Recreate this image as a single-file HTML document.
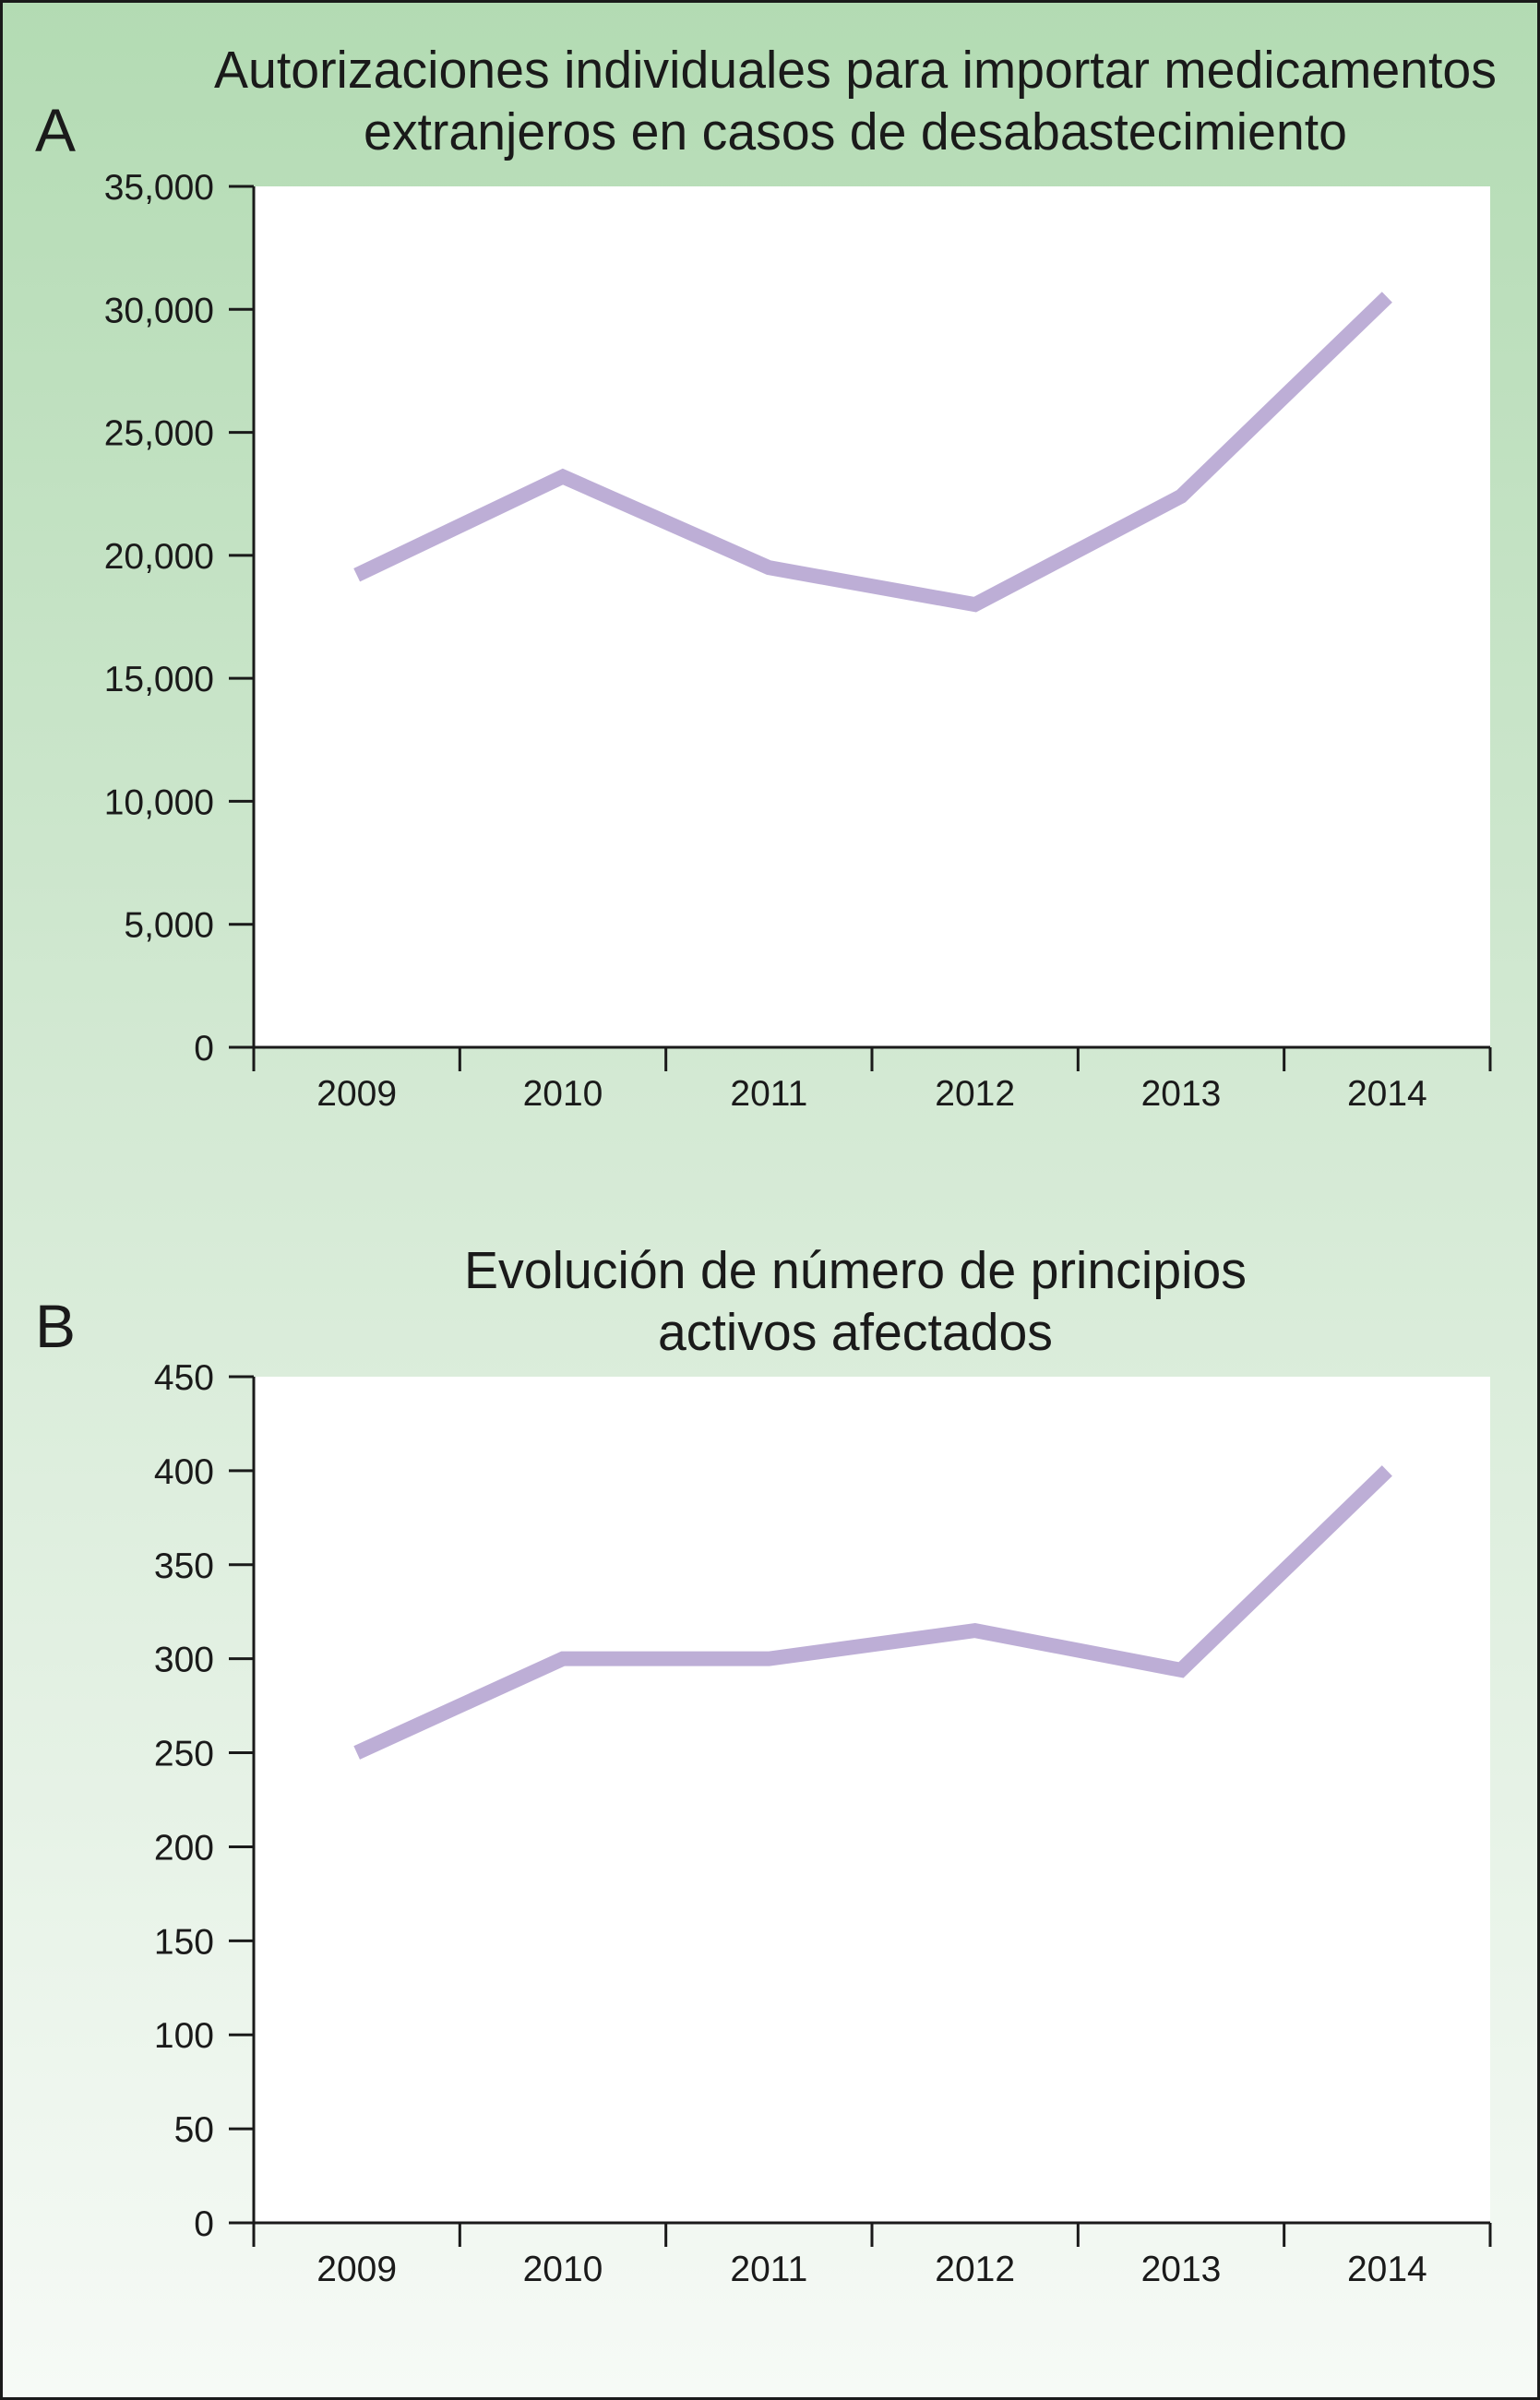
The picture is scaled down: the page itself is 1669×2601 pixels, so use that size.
<!DOCTYPE html>
<html><head><meta charset="utf-8"><style>
html,body{margin:0;padding:0;width:1669px;height:2601px;overflow:hidden}
svg{display:block}
text{font-family:"Liberation Sans",Arial,sans-serif;fill:#1a1a1a}
</style></head><body>
<svg id="root" width="1669" height="2601" viewBox="0 0 1669 2601">
<defs><linearGradient id="bg" x1="0" y1="0" x2="0" y2="1">
<stop offset="0" stop-color="#b3dbb3"/><stop offset="0.45" stop-color="#d3e9d3"/><stop offset="1" stop-color="#f6faf6"/></linearGradient></defs>
<rect x="1.5" y="1.5" width="1666" height="2598" fill="url(#bg)" stroke="#1a1a1a" stroke-width="3"/>
<g id="chartA"></g>
<g id="chartB"></g>
</svg>
<script>
const categories = ["2009","2010","2011","2012","2013","2014"];
const seriesA = [19200, 23200, 19500, 18000, 22400, 30500];
const seriesB = [250, 300, 300, 315, 294, 400];
const ticksA = [0,5000,10000,15000,20000,25000,30000,35000];
const tickLabelsA = ["0","5,000","10,000","15,000","20,000","25,000","30,000","35,000"];
const ticksB = [0,50,100,150,200,250,300,350,400,450];
const tickLabelsB = ["0","50","100","150","200","250","300","350","400","450"];
const NS="http://www.w3.org/2000/svg";
function mk(parent,tag,attrs,txt){const e=document.createElementNS(NS,tag);for(const k in attrs)e.setAttribute(k,attrs[k]);if(txt!==undefined)e.textContent=txt;parent.appendChild(e);return e;}
function draw(g,cfg){
  const L=275,R=1615,T=cfg.top,B=cfg.bottom;
  const y=v=>B-(v-cfg.min)/(cfg.max-cfg.min)*(B-T);
  const bw=(R-L)/categories.length;
  const x=i=>L+bw*(i+0.5);
  let e=mk(g,'rect',{x:L,y:T,width:R-L,height:B-T,fill:'#fff'});
  
  
  e=mk(g,'text',{x:38,y:cfg.letterY,'font-size':66},cfg.letter);
  
  
  cfg.title.forEach((t,i)=>{
    const tt=mk(g,'text',{x:927,y:cfg.titleY[i],'font-size':57,'text-anchor':'middle',textLength:cfg.titleW[i],lengthAdjust:'spacingAndGlyphs'},t);
    
    
  });
  cfg.ticks.forEach((v,i)=>{
    const l=mk(g,'line',{x1:248,x2:L,y1:y(v),y2:y(v),stroke:'#1a1a1a','stroke-width':3});
    
    
    const t=mk(g,'text',{x:232,y:y(v)+14,'font-size':39,'text-anchor':'end'},cfg.labels[i]);
    
    
  });
  e=mk(g,'line',{x1:L,x2:L,y1:T,y2:B+26,stroke:'#1a1a1a','stroke-width':3});
  
  
  e=mk(g,'line',{x1:L,x2:R,y1:B,y2:B,stroke:'#1a1a1a','stroke-width':3});
  
  
  for(let i=0;i<=categories.length;i++){
    const l=mk(g,'line',{x1:L+bw*i,x2:L+bw*i,y1:B,y2:B+26,stroke:'#1a1a1a','stroke-width':3});
    
    
  }
  categories.forEach((c,i)=>{
    const t=mk(g,'text',{x:x(i),y:B+63,'font-size':39,'text-anchor':'middle'},c);
    
    
  });
  const pts=cfg.data.map((v,i)=>x(i)+','+y(v)).join(' ');
  e=mk(g,'polyline',{points:pts,fill:'none',stroke:'#bdaed6','stroke-width':16,'stroke-linejoin':'miter'});
  
  
}
draw(document.getElementById('chartA'),{top:202,bottom:1135,min:0,max:35000,ticks:ticksA,labels:tickLabelsA,data:seriesA,
  letter:'A',letterY:164,title:['Autorizaciones individuales para importar medicamentos','extranjeros en casos de desabastecimiento'],titleY:[95,162],titleW:[1390,1066]});
draw(document.getElementById('chartB'),{top:1492,bottom:2409,min:0,max:450,ticks:ticksB,labels:tickLabelsB,data:seriesB,
  letter:'B',letterY:1460,title:['Evolución de número de principios','activos afectados'],titleY:[1396,1463],titleW:[848,428]});
</script>
</body></html>
